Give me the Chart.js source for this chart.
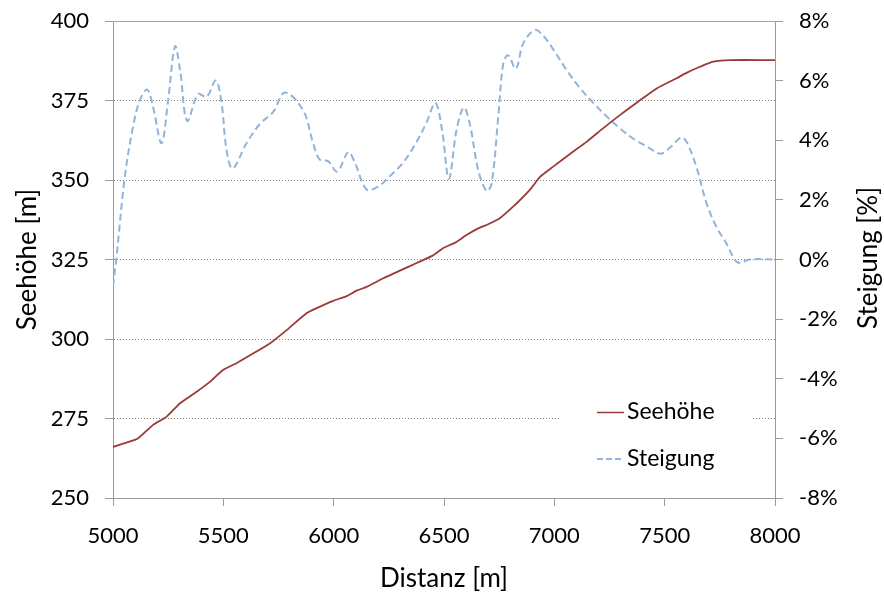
<!DOCTYPE html>
<html>
<head>
<meta charset="utf-8">
<script src="https://cdn.jsdelivr.net/npm/chart.js@4.4.1/dist/chart.umd.min.js"></script>
<style>
  html, body { margin: 0; padding: 0; background: #ffffff; }
  #wrap { width: 884px; height: 599px; }
</style>
</head>
<body>
<div id="wrap"><canvas id="c" width="884" height="599"></canvas></div>
<script>
// ---- Data ----
const seehoeheDist = [5000,5061,5114,5182,5243,5304,5379,5440,5500,5560,5636,5711,5787,5877,5923,5998,6059,6104,6149,6225,6300,6376,6451,6497,6550,6602,6655,6700,6753,6813,6889,6935,6995,7071,7146,7222,7297,7373,7464,7554,7599,7660,7720,7796,8000];
const seehoehe = [266.1,267.4,268.8,273.0,275.6,279.8,283.4,286.6,290.3,292.4,295.5,298.6,302.8,308.1,309.7,312.0,313.5,315.2,316.4,319.1,321.5,323.9,326.3,328.6,330.3,332.7,334.8,336.1,338.0,341.6,346.9,351.0,354.2,358.2,362.0,366.3,370.4,374.3,378.8,382.0,383.7,385.6,387.2,387.7,387.7];

const steigungDist = [5000,5016,5054,5092,5122,5155,5182,5220,5250,5281,5304,5336,5386,5424,5466,5492,5514,5542,5605,5666,5726,5779,5862,5907,5937,5975,6016,6066,6096,6149,6202,6255,6315,6376,6421,6461,6492,6522,6557,6590,6617,6655,6693,6716,6746,6769,6791,6826,6859,6912,6950,6995,7056,7116,7177,7237,7297,7358,7418,7481,7531,7576,7599,7644,7689,7734,7779,7817,7840,7885,8000];
const steigung = [-0.9,0.1,2.8,4.5,5.35,5.7,5.1,3.9,5.35,7.15,6.35,4.65,5.55,5.45,6.0,5.25,3.7,3.05,3.9,4.55,4.95,5.6,5.0,3.9,3.35,3.3,2.95,3.6,3.25,2.35,2.45,2.8,3.25,3.95,4.6,5.25,4.3,2.7,4.35,5.1,4.55,3.0,2.3,2.55,4.8,6.6,6.85,6.4,7.25,7.7,7.5,7.05,6.35,5.75,5.25,4.8,4.4,4.05,3.8,3.55,3.8,4.1,3.95,3.1,1.9,1.1,0.55,0.0,-0.12,0.0,0.0];

const xTicks = [5000,5500,6000,6500,7000,7500,8000];
const leftTicks = [250,275,300,325,350,375,400];
const rightTicks = [-8,-6,-4,-2,0,2,4,6,8];

const seriesNames = ['Seehöhe','Steigung'];
const axisTitles = { x: 'Distanz [m]', left: 'Seehöhe [m]', right: 'Steigung [%]' };

// ---- Styles ----
const FONT = 'Lato';
const RED = '#9B3A38';
const BLUE = '#93B3DA';
const AXIS = '#9a9a9a';

function pairs(xs, ys) { return xs.map((x, i) => ({ x: x, y: ys[i] })); }

const CHART_LEFT = 113, CHART_RIGHT = 775, CHART_TOP = 21, CHART_BOTTOM = 498;

function noPad(s) { s.paddingTop = 0; s.paddingBottom = 0; s.paddingLeft = 0; s.paddingRight = 0; }

const overlay = {
  id: 'overlay',
  beforeDatasetsDraw(chart) {
    const ctx = chart.ctx, a = chart.chartArea;
    ctx.save();
    ctx.strokeStyle = '#a6a6a6'; ctx.lineWidth = 1; ctx.setLineDash([]);
    const yTop = Math.round(chart.scales.y.getPixelForValue(leftTicks[leftTicks.length - 1])) + 0.5;
    ctx.beginPath(); ctx.moveTo(a.left, yTop); ctx.lineTo(a.right, yTop); ctx.stroke();
    ctx.restore();
  },
  afterDraw(chart) {
    const ctx = chart.ctx;
    ctx.save();
    ctx.fillStyle = '#ffffff';
    ctx.fillRect(560, 395, 193, 82);
    ctx.font = '23px ' + FONT;
    ctx.textBaseline = 'middle';
    ctx.textAlign = 'left';
    ctx.fillStyle = '#000000';
    ctx.strokeStyle = RED; ctx.lineWidth = 1.5; ctx.setLineDash([]);
    ctx.beginPath(); ctx.moveTo(597, 412.5); ctx.lineTo(624, 412.5); ctx.stroke();
    ctx.fillText(seriesNames[0], 627, 412);
    ctx.strokeStyle = BLUE; ctx.lineWidth = 2; ctx.setLineDash([6, 3]);
    ctx.beginPath(); ctx.moveTo(597, 459); ctx.lineTo(624, 459); ctx.stroke();
    ctx.setLineDash([]);
    ctx.fillText(seriesNames[1], 627, 459);
    ctx.translate(869, 258);
    ctx.rotate(-Math.PI / 2);
    ctx.textAlign = 'center';
    ctx.font = '26px ' + FONT;
    ctx.fillText(axisTitles.right, 0, 0);
    ctx.restore();
  }
};

new Chart(document.getElementById('c'), {
  type: 'line',
  data: {
    datasets: [
      {
        label: seriesNames[0],
        data: pairs(seehoeheDist, seehoehe),
        yAxisID: 'y',
        borderColor: RED,
        borderWidth: 1.8,
        pointRadius: 0,
        tension: 0.2,
        fill: false
      },
      {
        label: seriesNames[1],
        data: pairs(steigungDist, steigung),
        yAxisID: 'y2',
        borderColor: BLUE,
        borderWidth: 2,
        borderDash: [7, 4],
        pointRadius: 0,
        tension: 0.35,
        fill: false
      }
    ]
  },
  options: {
    responsive: false,
    animation: false,
    devicePixelRatio: 1,
    layout: { padding: { left: 0, right: 0, top: CHART_TOP, bottom: 0 } },
    plugins: { legend: { display: false }, tooltip: { enabled: false } },
    scales: {
      x: {
        type: 'linear',
        min: 5000, max: 8000,
        afterBuildTicks(s) { s.ticks = xTicks.map(v => ({ value: v })); },
        afterFit(s) { s.height = 599 - CHART_BOTTOM; noPad(s); },
        grid: { drawOnChartArea: false, drawTicks: true, tickLength: 8, color: AXIS },
        border: { display: true, color: AXIS, width: 1 },
        ticks: { font: { family: FONT, size: 22 }, color: '#000', padding: 17, maxRotation: 0, callback: v => String(v) },
        title: { display: true, text: axisTitles.x, font: { family: FONT, size: 26 }, color: '#000', padding: { top: 0, bottom: 5 } }
      },
      y: {
        position: 'left',
        min: 250, max: 400,
        afterBuildTicks(s) { s.ticks = leftTicks.map(v => ({ value: v })); },
        afterFit(s) { s.width = CHART_LEFT; noPad(s); },
        grid: { drawOnChartArea: true, drawTicks: true, tickLength: 8, color: '#7f7f7f', tickColor: AXIS },
        border: { display: true, color: AXIS, width: 1, dash: [1, 2] },
        ticks: { font: { family: FONT, size: 22 }, color: '#000', padding: 16, callback: v => String(v) },
        title: { display: true, text: axisTitles.left, font: { family: FONT, size: 26 }, color: '#000', padding: { top: 12, bottom: 0 } }
      },
      y2: {
        position: 'right',
        min: -8, max: 8,
        afterBuildTicks(s) { s.ticks = rightTicks.map(v => ({ value: v })); },
        afterFit(s) { s.width = 884 - CHART_RIGHT; noPad(s); },
        grid: { drawOnChartArea: false, drawTicks: true, tickLength: 8, color: AXIS },
        border: { display: true, color: AXIS, width: 1 },
        ticks: { font: { family: FONT, size: 22 }, color: '#000', padding: 16, callback: v => v + '%' },
        title: { display: false }
      }
    }
  },
  plugins: [overlay]
});
</script>
</body>
</html>
